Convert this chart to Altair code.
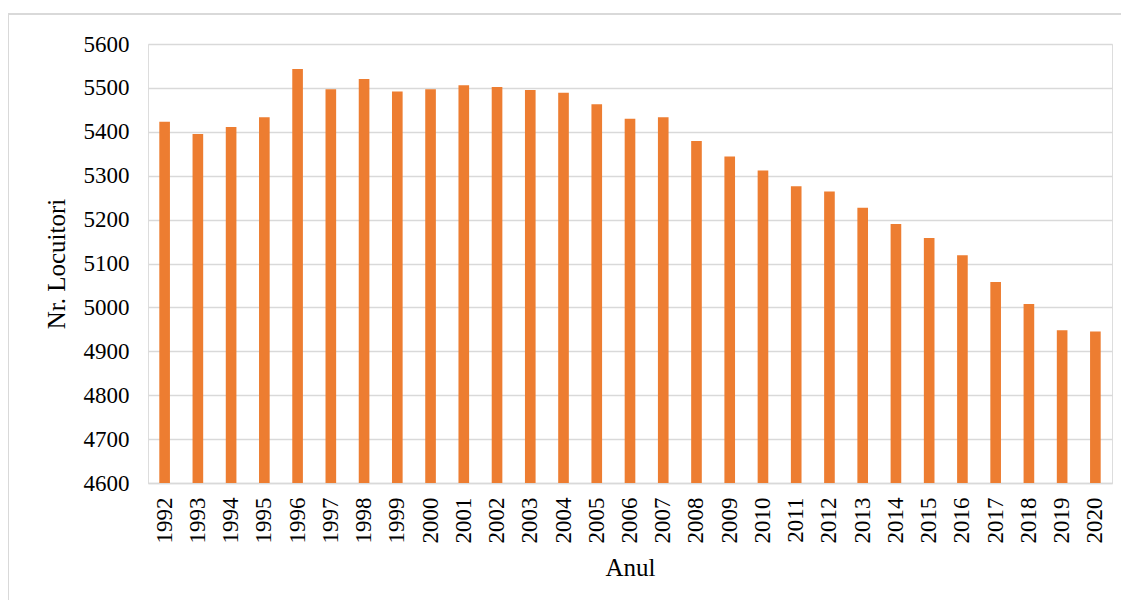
import altair as alt
import pandas as pd

years = [str(y) for y in range(1992, 2021)]
values = [5423, 5395, 5411, 5433, 5543, 5497, 5520, 5492, 5497, 5506,
          5502, 5495, 5489, 5463, 5430, 5433, 5379, 5344, 5312, 5276,
          5264, 5227, 5190, 5158, 5119, 5058, 5008, 4948, 4945]
y_ticks = list(range(4600, 5601, 100))

df = pd.DataFrame({"an": years, "locuitori": values})

FONT = "Liberation Serif"
W, H = 964, 439

bars = alt.Chart(df).mark_bar(color="#ED7D31", clip=True).encode(
    x=alt.X("an:N", sort=years,
            scale=alt.Scale(paddingInner=0.68, paddingOuter=0.34),
            axis=alt.Axis(title="Anul", labelAngle=-90, ticks=False,
                          domainColor="#D9D9D9", domainWidth=1.5,
                          labelFont=FONT, labelFontSize=23, labelColor="#000000",
                          labelPadding=14, labelBaseline="middle",
                          titleFont=FONT, titleFontSize=25, titleFontWeight="normal",
                          titleColor="#000000", titlePadding=12)),
    y=alt.Y("locuitori:Q",
            scale=alt.Scale(domain=[4600, 5600], nice=False, zero=False),
            axis=alt.Axis(title="Nr. Locuitori", values=y_ticks, format="d",
                          domain=False, ticks=False,
                          gridColor="#D9D9D9", gridWidth=1.5,
                          labelFont=FONT, labelFontSize=23, labelColor="#000000",
                          labelPadding=19,
                          titleFont=FONT, titleFontSize=25, titleFontWeight="normal",
                          titleColor="#000000", titlePadding=14)),
)

frame = alt.Chart(df).mark_rect(fill=None, stroke="#D9D9D9", strokeWidth=1.5, clip=False).encode(
    x=alt.value(-140), x2=alt.value(W + 60),
    y=alt.value(-30), y2=alt.value(H + 200),
)

chart = alt.layer(frame, bars).properties(
    width=W, height=H,
    autosize="none",
    padding={"left": 140, "top": 36, "right": 9, "bottom": 117},
).configure_view(stroke=None).configure(background="white")

chart.save("out.html", embed_options={"renderer": "svg", "actions": False})
